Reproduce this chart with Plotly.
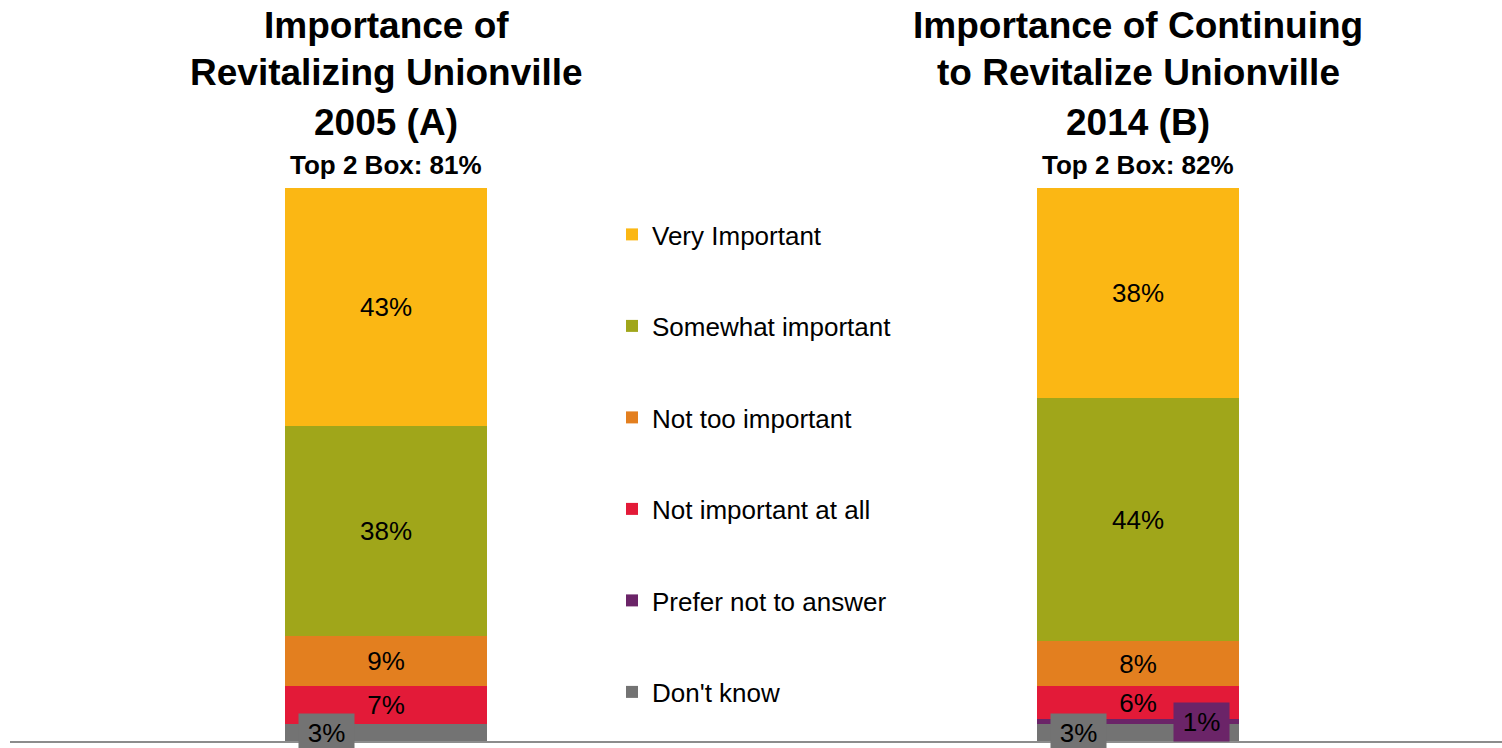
import plotly.graph_objects as go

categories = ["2005 (A)", "2014 (B)"]
cat_pos = [0, 1]

series_names = ["Don't know", "Prefer not to answer", "Not important at all",
                "Not too important", "Somewhat important", "Very Important"]
dont_know = [3, 3]
prefer_not = [0, 1]
not_at_all = [7, 6]
not_too = [9, 8]
somewhat = [38, 44]
very = [43, 38]
series_values = [dont_know, prefer_not, not_at_all, not_too, somewhat, very]
colors = ["#737373", "#6B2468", "#E31A38", "#E37F1F", "#A0A61A", "#FBB714"]
inline_label = [False, False, True, True, True, True]
legend_rank = [6, 5, 4, 3, 2, 1]

title_line1 = ["Importance of", "Importance of Continuing"]
title_line2 = ["Revitalizing Unionville", "to Revitalize Unionville"]
title_line3 = ["2005 (A)", "2014 (B)"]
top2_labels = ["Top 2 Box: 81%", "Top 2 Box: 82%"]

FONT = "Liberation Sans, Arial, sans-serif"
BAR_W = 0.2686

fig = go.Figure()
for name, vals, col, show, rk in zip(series_names, series_values, colors, inline_label, legend_rank):
    fig.add_trace(go.Bar(
        x=cat_pos, y=vals, name=name, legendgroup=name, legendrank=rk,
        marker=dict(color=col, line=dict(width=0)),
        width=BAR_W,
        text=[f"{v}%" if show else "" for v in vals],
        textposition="inside", insidetextanchor="middle",
        textfont=dict(family=FONT, size=26, color="black"),
        constraintext="none",
        hoverinfo="skip",
    ))

annotations = []
for i, v in enumerate(dont_know):
    annotations.append(dict(
        x=cat_pos[i] - 0.079, y=v / 2, xref="x", yref="y",
        text=f"{v}%", showarrow=False, bgcolor="#737373",
        width=55, height=38, borderpad=0,
        font=dict(family=FONT, size=26, color="black"),
        xanchor="center", yanchor="middle"))
for i, v in enumerate(prefer_not):
    if v > 0:
        annotations.append(dict(
            x=cat_pos[i] + 0.084, y=dont_know[i] + v / 2, xref="x", yref="y",
            text=f"{v}%", showarrow=False, bgcolor="#6B2468",
            width=55, height=38, borderpad=0,
            font=dict(family=FONT, size=26, color="black"),
            xanchor="center", yanchor="middle"))

def py(pix):
    return (741 - pix) / 553.0

for i in range(2):
    annotations.append(dict(x=cat_pos[i], y=py(26), xref="x", yref="paper",
                            text=f"<b>{title_line1[i]}</b>", showarrow=False,
                            font=dict(family=FONT, size=37, color="black"),
                            xanchor="center", yanchor="middle"))
    annotations.append(dict(x=cat_pos[i], y=py(73), xref="x", yref="paper",
                            text=f"<b>{title_line2[i]}</b>", showarrow=False,
                            font=dict(family=FONT, size=37, color="black"),
                            xanchor="center", yanchor="middle"))
    annotations.append(dict(x=cat_pos[i], y=py(123), xref="x", yref="paper",
                            text=f"<b>{title_line3[i]}</b>", showarrow=False,
                            font=dict(family=FONT, size=37, color="black"),
                            xanchor="center", yanchor="middle"))
    annotations.append(dict(x=cat_pos[i], y=py(165), xref="x", yref="paper",
                            text=f"<b>{top2_labels[i]}</b>", showarrow=False,
                            font=dict(family=FONT, size=26, color="black"),
                            xanchor="center", yanchor="middle"))

fig.update_layout(
    barmode="stack",
    width=1502, height=748,
    margin=dict(l=10, r=0, t=188, b=7, pad=0),
    paper_bgcolor="white", plot_bgcolor="white",
    bargap=0,
    showlegend=True,
    legend=dict(
        x=(612 - 10) / 1492.0, y=py(211), xanchor="left", yanchor="top",
        traceorder="grouped", tracegroupgap=54.7,
        font=dict(family=FONT, size=26, color="black"),
        bgcolor="rgba(0,0,0,0)",
    ),
    uniformtext=dict(minsize=26, mode="show"),
    xaxis=dict(range=[-0.5, 1.484], showticklabels=False, showgrid=False,
               zeroline=False, showline=True, linecolor="#8C8C8C", linewidth=2,
               ticks="", fixedrange=True),
    yaxis=dict(range=[0, 100], visible=False, showgrid=False, zeroline=False,
               fixedrange=True),
    annotations=annotations,
    hovermode=False,
)

fig.write_html("out.html", config={"displayModeBar": False},
               post_script="document.body.style.margin='0';document.body.style.overflow='hidden';")
